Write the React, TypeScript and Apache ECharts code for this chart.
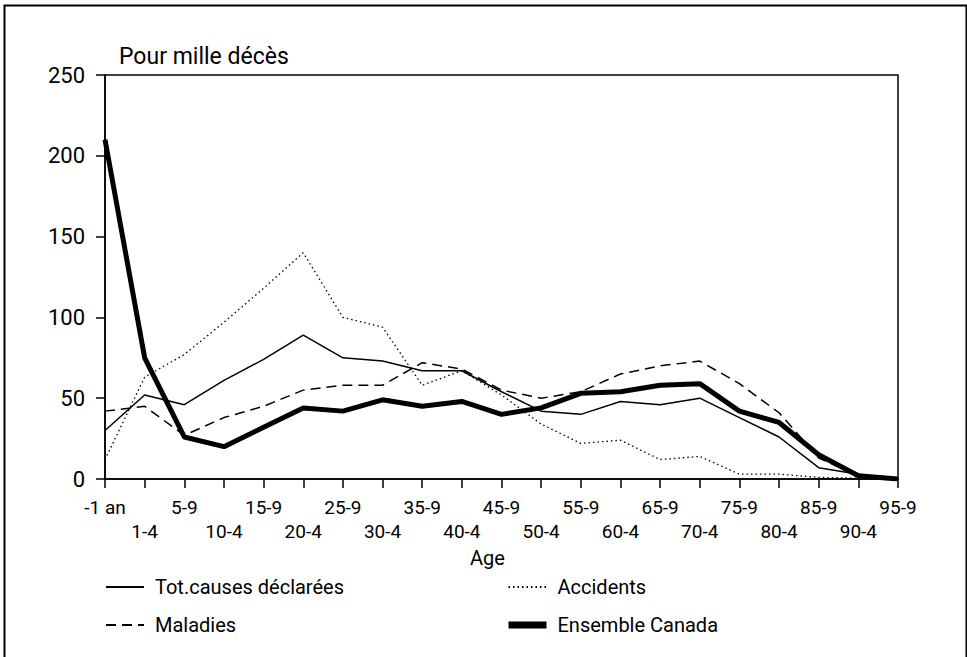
import React, { useEffect, useRef } from "react";
import * as echarts from "echarts";

const categories = ["-1 an", "1-4", "5-9", "10-4", "15-9", "20-4", "25-9", "30-4", "35-9", "40-4", "45-9", "50-4", "55-9", "60-4", "65-9", "70-4", "75-9", "80-4", "85-9", "90-4", "95-9"];
const totCauses = [30, 52, 46, 61, 74, 89, 75, 73, 67, 67, 54, 42, 40, 48, 46, 50, 38, 26, 7, 3, 0];
const maladies = [42, 45, 27, 38, 45, 55, 58, 58, 72, 68, 55, 50, 54, 65, 70, 73, 59, 41, 13, 2, 0];
const accidents = [12, 63, 77, 97, 118, 140, 100, 94, 58, 67, 52, 34, 22, 24, 12, 14, 3, 3, 1, 0.5, 0];
const ensemble = [210, 75, 26, 20, 32, 44, 42, 49, 45, 48, 40, 44, 53, 54, 58, 59, 42, 35, 15, 2, 0];
const yTicks = { min: 0, max: 250, interval: 50 };

const FONT = "Roboto";

export default function App() {
  const ref = useRef<HTMLDivElement>(null);
  useEffect(() => {
    if (!ref.current) return;
    const chart = echarts.init(ref.current, undefined, { renderer: "svg" });
    const legendBase = {
      top: 572,
      orient: "vertical",
      itemWidth: 38,
      itemHeight: 10,
      itemGap: 18,
      itemStyle: { opacity: 0, borderWidth: 0 },
      textStyle: { fontFamily: FONT, fontSize: 20, color: "#000", padding: [0, 0, 0, 6] },
    };
    chart.setOption({
      animation: false,
      backgroundColor: "#ffffff",
      textStyle: { fontFamily: FONT, color: "#000" },
      title: {
        text: "Pour mille décès",
        left: 114,
        top: 40,
        textStyle: { fontFamily: FONT, fontSize: 23, fontWeight: "normal", color: "#000" },
      },
      grid: {
        left: 105,
        right: 69,
        top: 75,
        bottom: 178,
        show: true,
        borderColor: "#000",
        borderWidth: 1.5,
        backgroundColor: "transparent",
      },
      legend: [
        { ...legendBase, left: 100, data: ["Tot.causes déclarées", "Maladies"] },
        {
          ...legendBase,
          left: 500,
          data: ["Accidents", { name: "Ensemble Canada", lineStyle: { width: 7 } }],
        },
      ],
      xAxis: {
        type: "category",
        data: categories,
        boundaryGap: false,
        name: "Age",
        nameLocation: "middle",
        nameGap: 69,
        nameTextStyle: { fontFamily: FONT, fontSize: 20, color: "#000", padding: [0, 28, 0, 0] },
        axisLine: { show: true, lineStyle: { color: "#000", width: 1.5 } },
        axisTick: { show: true, interval: 0, length: 9, lineStyle: { color: "#000", width: 1.5 } },
        axisLabel: {
          interval: 0,
          margin: 16,
          fontFamily: FONT,
          fontSize: 19,
          color: "#000",
          lineHeight: 24,
          formatter: (v: string, i: number) => (i % 2 === 1 ? "\n" + v : v),
        },
        splitLine: { show: false },
      },
      yAxis: {
        type: "value",
        min: yTicks.min,
        max: yTicks.max,
        interval: yTicks.interval,
        axisLine: { show: true, lineStyle: { color: "#000", width: 1.5 } },
        axisTick: { show: true, length: 9, lineStyle: { color: "#000", width: 1.5 } },
        axisLabel: { margin: 20, fontFamily: FONT, fontSize: 22, color: "#000" },
        splitLine: { show: false },
      },
      series: [
        {
          name: "Tot.causes déclarées",
          type: "line",
          data: totCauses,
          symbol: "none",
          lineStyle: { color: "#000", width: 1.5, type: "solid" },
          itemStyle: { color: "#000" },
        },
        {
          name: "Maladies",
          type: "line",
          data: maladies,
          symbol: "none",
          lineStyle: { color: "#000", width: 1.5, type: [10, 6] },
          itemStyle: { color: "#000" },
        },
        {
          name: "Accidents",
          type: "line",
          data: accidents,
          symbol: "none",
          lineStyle: { color: "#000", width: 1.3, type: [1.5, 3] },
          itemStyle: { color: "#000" },
        },
        {
          name: "Ensemble Canada",
          type: "line",
          data: ensemble,
          symbol: "none",
          lineStyle: { color: "#000", width: 5, type: "solid" },
          itemStyle: { color: "#000" },
        },
      ],
      graphic: [
        {
          type: "rect",
          left: 2,
          top: 3,
          shape: { width: 962, height: 700 },
          style: { fill: "none", stroke: "#000", lineWidth: 2 },
          silent: true,
        },
      ],
    });
    return () => chart.dispose();
  }, []);
  return (
    <div
      ref={ref}
      style={{ position: "fixed", left: 0, top: 0, width: 967, height: 657, background: "#fff" }}
    />
  );
}
